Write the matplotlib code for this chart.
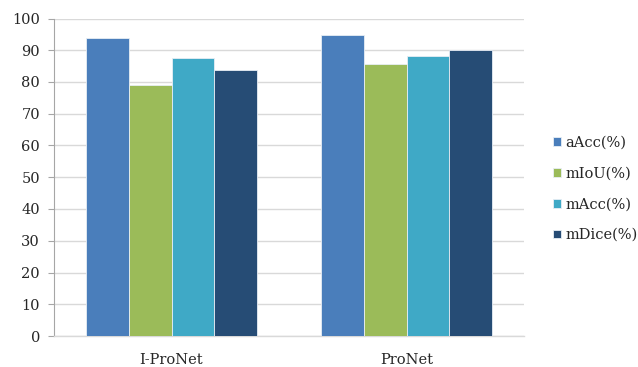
import matplotlib
matplotlib.use("Agg")
import matplotlib.pyplot as plt
import numpy as np

categories = ["I-ProNet", "ProNet"]
series_names = ["aAcc(%)", "mIoU(%)", "mAcc(%)", "mDice(%)"]
aacc = [93.8, 94.8]
miou = [79.0, 85.7]
macc = [87.6, 88.2]
mdice = [83.7, 90.1]
yticks = [0, 10, 20, 30, 40, 50, 60, 70, 80, 90, 100]

colors = ["#4a7ebb", "#9bbb59", "#3fa9c6", "#264c75"]
series = [aacc, miou, macc, mdice]

plt.rcParams["font.family"] = ["DejaVu Serif"]

fig = plt.figure(figsize=(6.38, 3.67), dpi=100)
ax = fig.add_axes([54 / 638, 1 - 336 / 367, (524 - 54) / 638, (336 - 18.5) / 367])

x = np.arange(len(categories))
group_w = 0.725
bar_w = group_w / len(series)
for i, (vals, col, name) in enumerate(zip(series, colors, series_names)):
    offs = -group_w / 2 + bar_w * (i + 0.5)
    ax.bar(x + offs, vals, width=bar_w, color=col, edgecolor="#e8eef5",
           linewidth=0.6, label=name, zorder=3)

ax.set_xlim(-0.5, 1.5)
ax.set_ylim(0, 100)
ax.set_yticks(yticks)
ax.set_yticklabels([str(t) for t in yticks], fontsize=10.5, color="#262626")
ax.set_xticks(x)
ax.set_xticklabels(categories, fontsize=10.5, color="#262626")
ax.tick_params(axis="x", length=0, pad=12)
ax.tick_params(axis="y", length=4, width=0.8, color="#a6a6a6", pad=6)

ax.grid(axis="y", color="#d9d9d9", linewidth=1.0, zorder=0)
ax.set_axisbelow(True)
for s in ["top", "right"]:
    ax.spines[s].set_visible(False)
ax.spines["left"].set_color("#a6a6a6")
ax.spines["left"].set_linewidth(0.8)
ax.spines["bottom"].set_color("#d9d9d9")
ax.spines["bottom"].set_linewidth(1.0)

leg = ax.legend(loc="center left", bbox_to_anchor=(1.05, 0.463), frameon=False,
                fontsize=10.5, handlelength=0.55, handleheight=0.55,
                handletextpad=0.3, labelspacing=1.15, borderaxespad=0)
for t in leg.get_texts():
    t.set_color("#262626")

fig.savefig("out.png", dpi=100)
